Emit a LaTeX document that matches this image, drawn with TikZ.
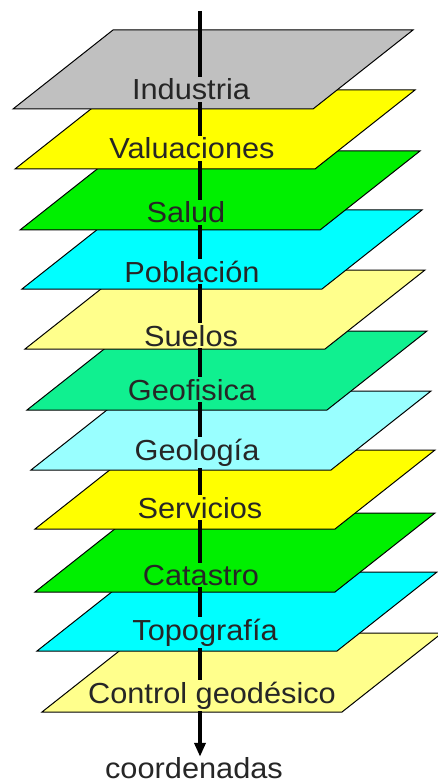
\documentclass[tikz,border=0pt]{standalone}
\usepackage{fontspec}
\setmainfont[FakeStretch=1.06]{Liberation Sans}
\usetikzlibrary{arrows.meta}
\definecolor{cgray}{HTML}{C0C0C0}
\definecolor{cyel}{HTML}{FFFF00}
\definecolor{cgreen}{HTML}{00F000}
\definecolor{ccyan}{HTML}{00FFFF}
\definecolor{cpale}{HTML}{FFFF8C}
\definecolor{cgeof}{HTML}{10F090}
\definecolor{cgeol}{HTML}{99FFFF}
\tikzset{
  plane/.style={draw=black, line width=1pt, line join=miter},
  lbl/.style={font=\fontsize{29}{34}\selectfont, anchor=base, inner xsep=1pt, inner ysep=2pt, text=black!85},
  axis/.style={line width=3.5pt, -{Triangle[width=11pt,length=14pt]}}
}
\newcommand{\layer}[3]{% left x, bottom y, colour
  \path[plane, fill=#3] (#1,#2) -- ++(300,0) -- ++(100,-79) -- ++(-300,0) -- cycle;}
\begin{document}
\begin{tikzpicture}[x=1pt,y=-1pt]
\useasboundingbox (0,0) rectangle (438,783);
\fill[white] (0,0) rectangle (438,783);
% planes, bottom first
\layer{42}{712}{cpale}
\layer{37}{651}{ccyan}
\layer{35}{592}{cgreen}
\layer{35}{529}{cyel}
\layer{31}{470}{cgeol}
\layer{27}{410}{cgeof}
\layer{25}{349}{cpale}
\layer{22}{289}{ccyan}
\layer{20}{230}{cgreen}
\layer{15}{169}{cyel}
\layer{13}{109}{cgray}
% axis
\coordinate (top) at (200,11);
\node[lbl, fill=none, inner ysep=0pt] (coord) at (194,778) {coordenadas};
\draw[axis] (top) -- (top |- coord.north);
% labels
\node[lbl, fill=cgray] (industria) at (191,100) {Industria};
\node[lbl, fill=cyel] (valuaciones) at (192,159) {Valuaciones};
\node[lbl, fill=cgreen] (salud) at (186,223) {Salud};
\node[lbl, fill=ccyan] (poblacion) at (192,282) {Población};
\node[lbl, fill=cpale] (suelos) at (191,346) {Suelos};
\node[lbl, fill=cgeof] (geofisica) at (192,400) {Geofisica};
\node[lbl, fill=cgeol] (geologia) at (197,460) {Geología};
\node[lbl, fill=cyel] (servicios) at (200,518) {Servicios};
\node[lbl, fill=cgreen] (catastro) at (201,585) {Catastro};
\node[lbl, fill=ccyan] (topografia) at (205,640) {Topografía};
\node[lbl, fill=cpale] (control) at (212,703) {Control geodésico};
\end{tikzpicture}
\end{document}
